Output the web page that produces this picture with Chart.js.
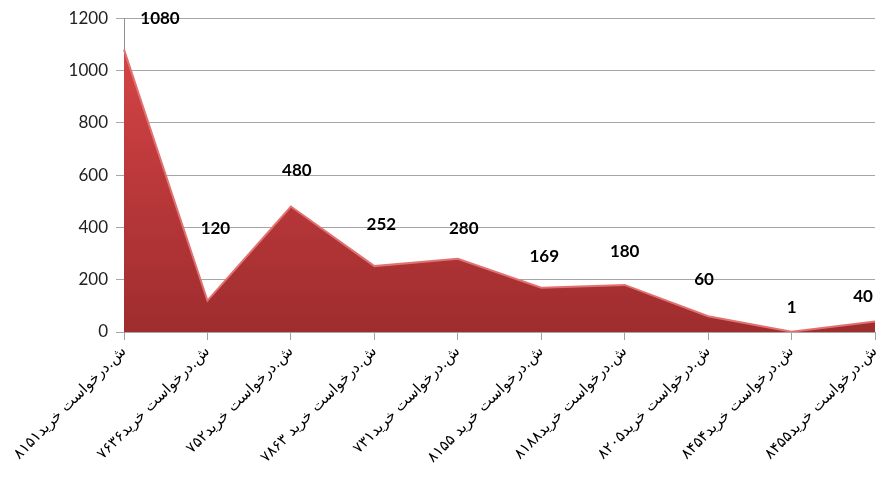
<!DOCTYPE html>
<html>
<head>
<meta charset="utf-8">
<script src="https://cdn.jsdelivr.net/npm/chart.js@4"></script>
<style>
html,body{margin:0;padding:0;background:#fff;}
#c{display:block;}
</style>
</head>
<body>
<canvas id="c" width="886" height="481"></canvas>
<script>
const categories = [
  "ش.درخواست خرید۸۱۵۱",
  "ش.درخواست خرید۷۶۳۶",
  "ش.درخواست خرید۷۵۲",
  "ش.درخواست خرید ۷۸۶۳",
  "ش.درخواست خرید۷۳۱",
  "ش.درخواست خرید ۸۱۵۵",
  "ش.درخواست خرید۸۱۸۸",
  "ش.درخواست خرید۸۲۰۵",
  "ش.درخواست خرید۸۴۵۴",
  "ش.درخواست خرید۸۴۵۵"
];
const values = [1080, 120, 480, 252, 280, 169, 180, 60, 1, 40];
const yTicks = [0, 200, 400, 600, 800, 1000, 1200];

// label placement offsets (layout only), relative to each point
const labelDx = [36, 8, 6, 7, 6, 3, 0, -4, 0, -12];
const labelDy = [-31, -72, -36, -42, -30, -31, -33, -37, -24, -25];

const labelPlugin = {
  id: 'valueLabels',
  afterDatasetsDraw(chart) {
    const ctx = chart.ctx;
    const xs = chart.scales.x, ys = chart.scales.y;
    ctx.save();
    ctx.font = 'bold 17px Lato, "Open Sans", sans-serif';
    ctx.fillStyle = '#000';
    ctx.textAlign = 'center';
    ctx.textBaseline = 'middle';
    values.forEach((v, i) => {
      const x = xs.getPixelForValue(i) + labelDx[i];
      const y = ys.getPixelForValue(v) + labelDy[i];
      ctx.fillText(String(v), x, y);
    });
    ctx.restore();
  }
};

const ctx = document.getElementById('c').getContext('2d');
new Chart(ctx, {
  type: 'line',
  data: {
    labels: categories,
    datasets: [{
      data: values,
      fill: 'origin',
      tension: 0,
      pointRadius: 0,
      borderColor: '#e27272',
      borderWidth: 2,
      backgroundColor: (c) => {
        const area = c.chart.chartArea;
        if (!area) return '#b33a3a';
        const g = c.chart.ctx.createLinearGradient(0, area.top, 0, area.bottom);
        g.addColorStop(0, '#da4849');
        g.addColorStop(0.45, '#bf3a3c');
        g.addColorStop(1, '#9f2d2e');
        return g;
      }
    }]
  },
  options: {
    responsive: false,
    animation: false,
    layout: { padding: { left: 0, top: 17, right: 11, bottom: 0 } },
    plugins: { legend: { display: false }, tooltip: { enabled: false } },
    scales: {
      x: {
        offset: false,
        grid: { display: true, drawOnChartArea: false, drawTicks: true, tickLength: 8, color: '#a0a0a0' },
        border: { display: false },
        ticks: {
          maxRotation: 45, minRotation: 45,
          autoSkip: false,
          padding: 3,
          color: '#000',
          font: { family: '"DejaVu Sans", sans-serif', size: 15 }
        },
        afterFit(s) { s.height = 149; s.paddingRight = 0; s.paddingLeft = 0; }
      },
      y: {
        min: 0, max: 1200,
        afterBuildTicks(s) { s.ticks = yTicks.map(v => ({ value: v })); },
        grid: { color: '#a6a6a6', tickLength: 8, lineWidth: 1 },
        border: { display: true, color: '#909090' },
        ticks: {
          padding: 8,
          color: '#222',
          callback: (v) => String(v),
          font: { family: 'Lato, "Open Sans", sans-serif', size: 17 }
        },
        afterFit(s) { s.width = 124; }
      }
    }
  },
  plugins: [labelPlugin]
});
</script>
</body>
</html>
